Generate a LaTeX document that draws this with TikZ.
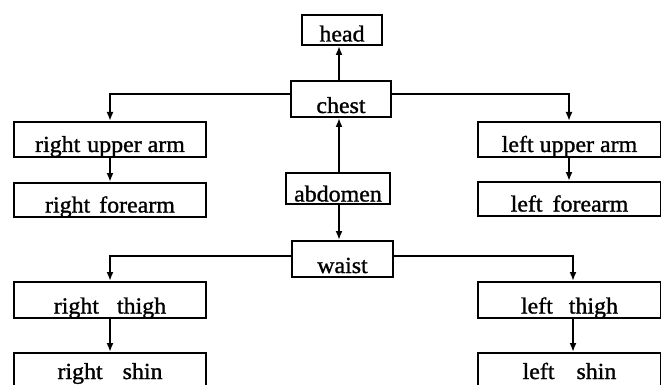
\documentclass[tikz,border=0pt]{standalone}
\usepackage{fontspec}
\setmainfont{Liberation Serif}[FakeStretch=1.04,FakeBold=1.2]
\usetikzlibrary{arrows.meta}
\begin{document}
\begin{tikzpicture}[x=1pt,y=-1pt,
  bx/.style={draw, line width=2pt, inner sep=0pt, anchor=north west,
             font=\fontsize{23}{27}\selectfont},
  arr/.style={line width=2pt, -{Latex[length=9pt,width=7pt]}}]
\useasboundingbox (0,0) rectangle (661,385);
% boxes
\node[bx, minimum width=80pt,  text height=26.5pt, text depth=3.5pt] (head)    at (301,14)  {head};
\node[bx, minimum width=100pt, text height=32pt,   text depth=4pt]   (chest)   at (290,80)  {chest};
\node[bx, minimum width=192pt, text height=30pt,   text depth=5pt]   (RUA)     at (13,121)  {right\hspace{7pt}upper arm};
\node[bx, minimum width=183pt, text height=30pt,   text depth=5pt]   (LUA)     at (477,121) {left\hspace{6pt}upper arm};
\node[bx, minimum width=192pt, text height=29.5pt, text depth=4.5pt] (RF)      at (13,182)  {right\hspace{9pt}forearm};
\node[bx, minimum width=183pt, text height=29.5pt, text depth=4.5pt] (LF)      at (477,181) {left\hspace{10pt}forearm};
\node[bx, minimum width=104pt, text height=28.5pt, text depth=2.5pt] (abdomen) at (285,172) {abdomen};
\node[bx, minimum width=101pt, text height=32pt,   text depth=4pt]   (waist)   at (291,240) {waist};
\node[bx, minimum width=192pt, text height=31.5pt, text depth=4.5pt] (RT)      at (13,281)  {right\hspace{18pt}thigh};
\node[bx, minimum width=183pt, text height=31.5pt, text depth=4.5pt] (LT)      at (477,281) {left\hspace{16pt}thigh};
\node[bx, minimum width=192pt, text height=26pt,   text depth=14pt]  (RS)      at (13,352)  {right\hspace{20pt}shin};
\node[bx, minimum width=183pt, text height=26pt,   text depth=14pt]  (LS)      at (477,352) {left\hspace{22pt}shin};
% helper coordinates
\coordinate (cx) at (339,0);
\coordinate (xl) at (110,0);
\coordinate (xr) at (569,0);
\coordinate (xrb) at (573,0);
\coordinate (ly1) at (0,94);
\coordinate (ly2) at (0,256);
% connectors
\draw[arr] (chest.north -| cx) -- (head.south -| cx);
\draw[arr] (chest.west |- ly1) -| (RUA.north -| xl);
\draw[arr] (chest.east |- ly1) -| (LUA.north -| xr);
\draw[arr] (RUA.south -| xl) -- (RF.north -| xl);
\draw[arr] (LUA.south -| xr) -- (LF.north -| xr);
\draw[arr] (abdomen.north -| cx) -- (chest.south -| cx);
\draw[arr] (abdomen.south -| cx) -- (waist.north -| cx);
\draw[arr] (waist.west |- ly2) -| (RT.north -| xl);
\draw[arr] (waist.east |- ly2) -| (LT.north -| xrb);
\draw[arr] (RT.south -| xl) -- (RS.north -| xl);
\draw[arr] (LT.south -| xrb) -- (LS.north -| xrb);
\end{tikzpicture}
\end{document}
